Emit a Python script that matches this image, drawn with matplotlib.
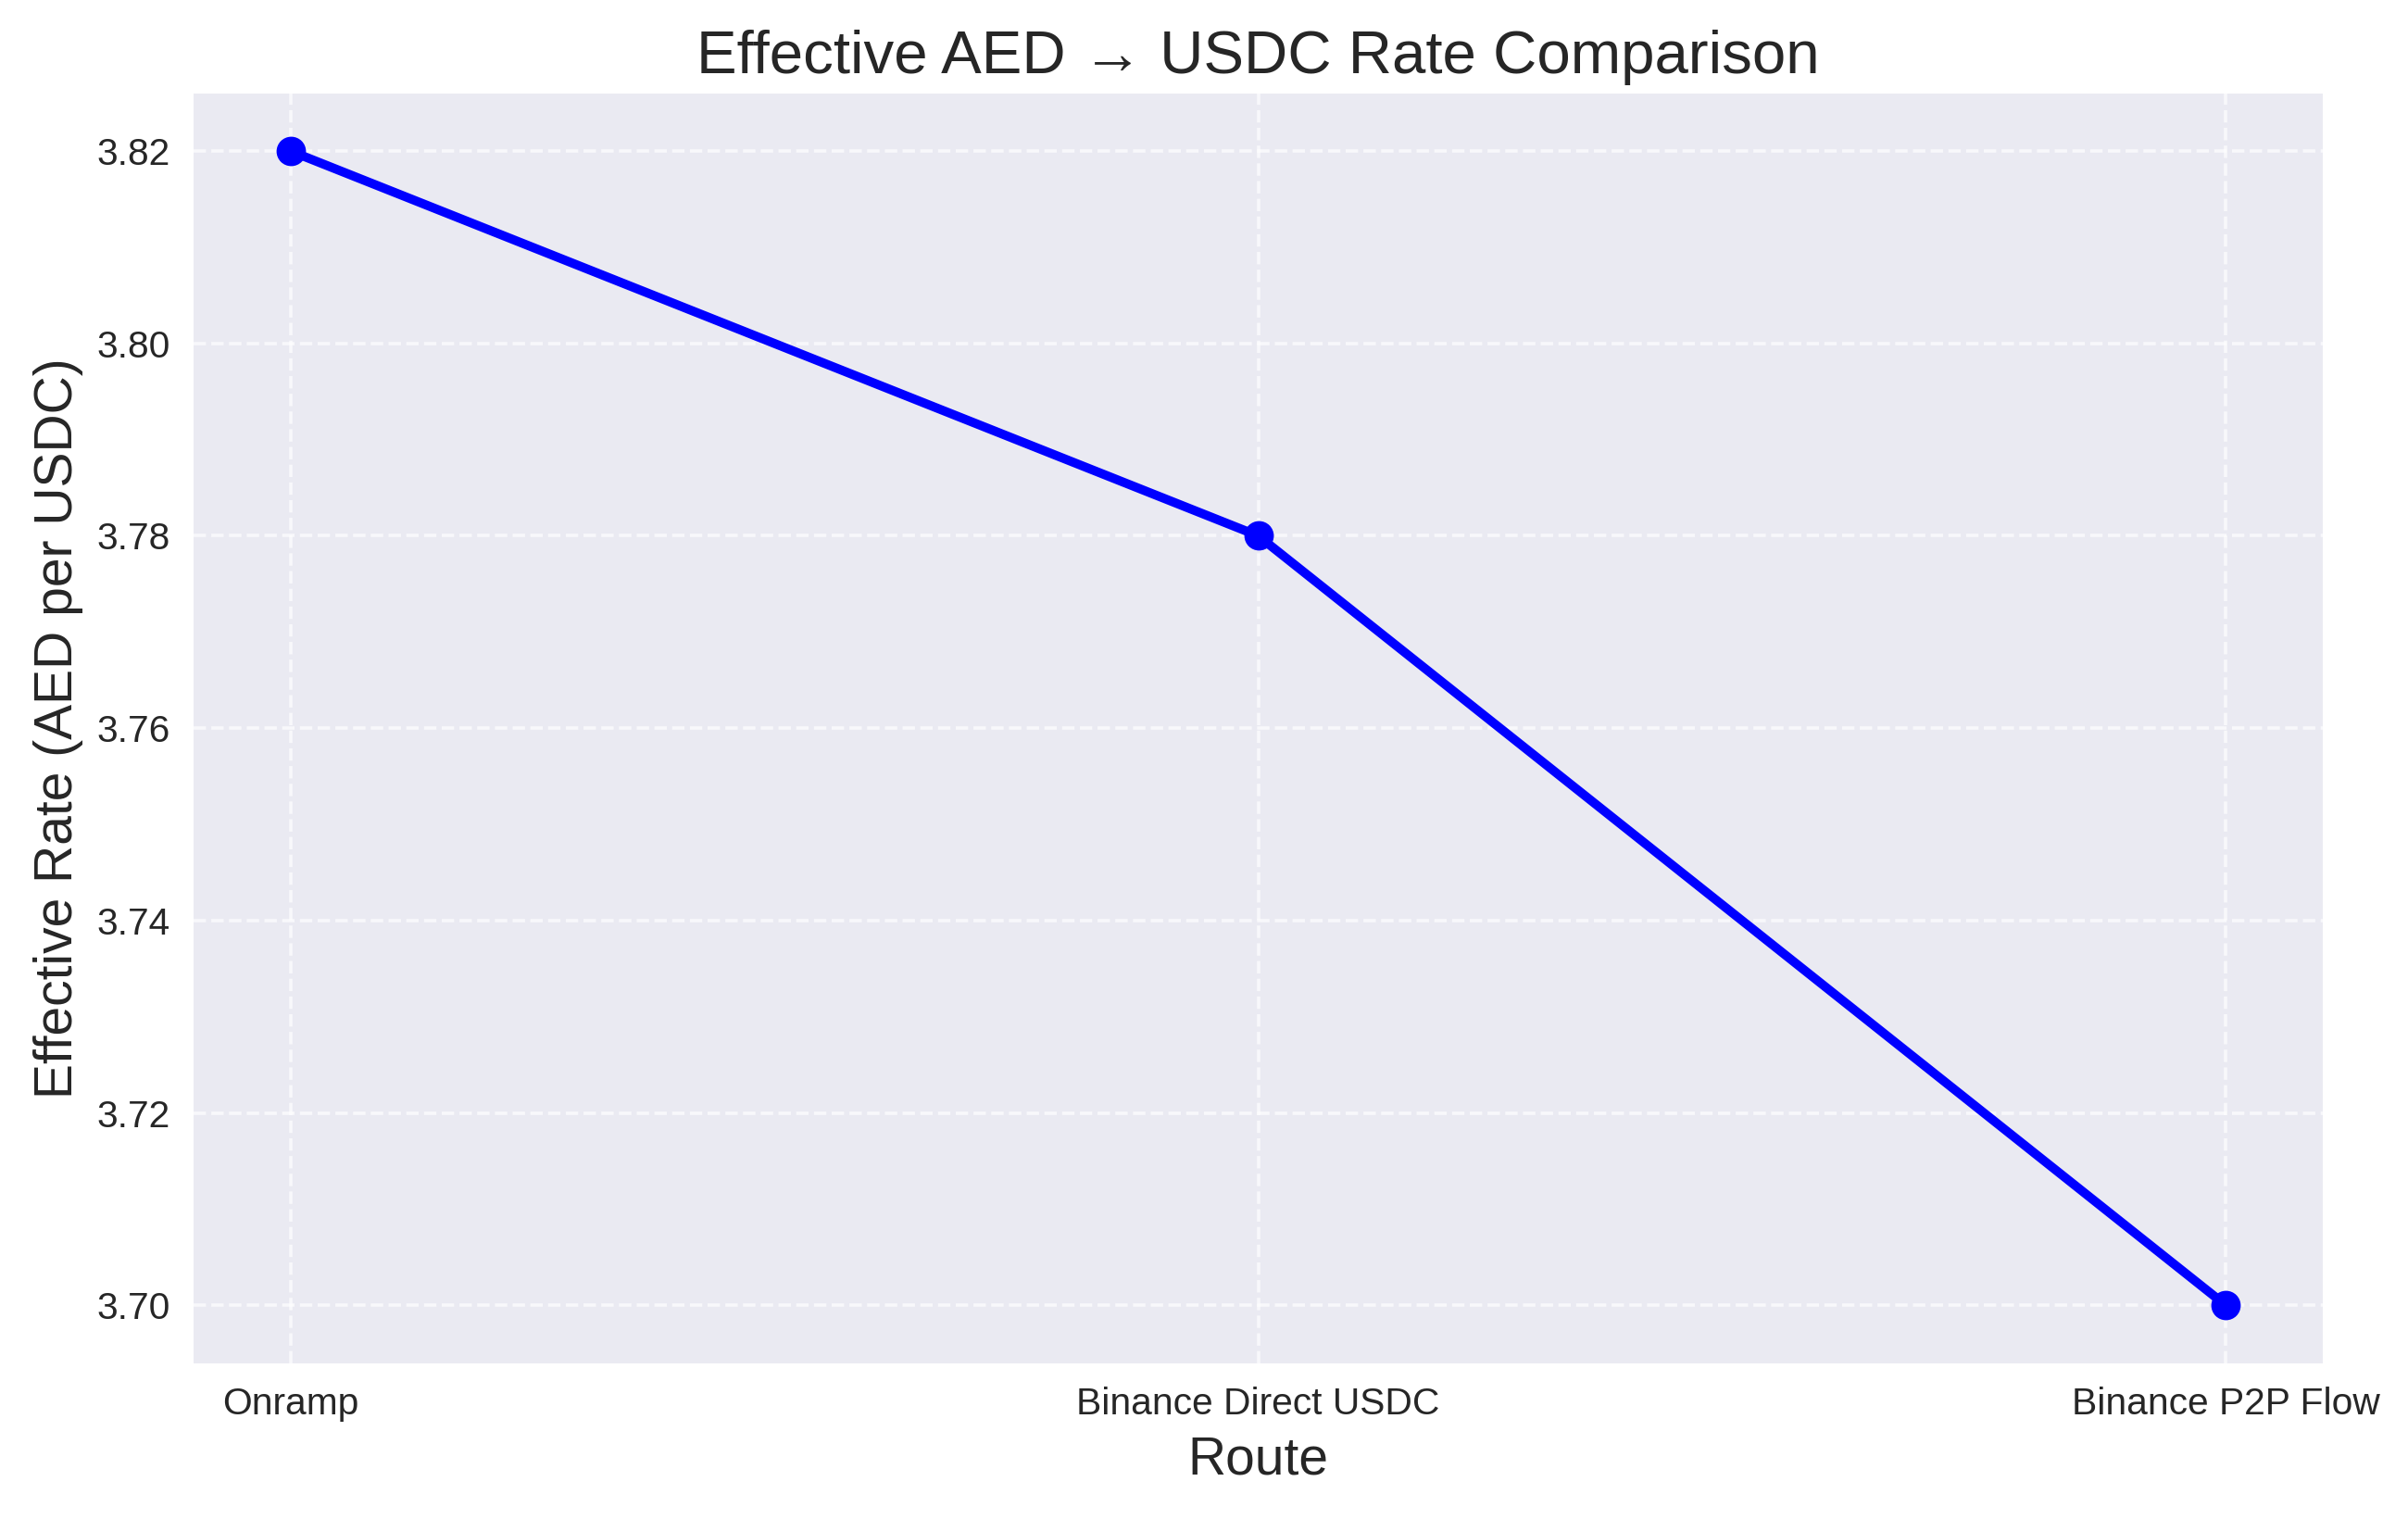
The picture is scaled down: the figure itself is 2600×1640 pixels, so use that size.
import matplotlib
matplotlib.use("Agg")
import matplotlib.pyplot as plt

routes = ["Onramp", "Binance Direct USDC", "Binance P2P Flow"]
rates = [3.82, 3.78, 3.70]

plt.style.use("seaborn-v0_8")
plt.rcParams["font.family"] = ["Liberation Sans", "DejaVu Sans"]

fig = plt.figure(figsize=(10, 1640 / 260), dpi=260)
ax = fig.add_axes([0.0804, 0.1026, 0.8842, 0.836])

ax.plot(routes, rates, marker="o", color="blue", linewidth=2.7, markersize=8.8)

ax.set_title("Effective AED \u2192 USDC Rate Comparison", fontsize=18.1)
ax.set_xlabel("Route", fontsize=15.8)
ax.set_ylabel("Effective Rate (AED per USDC)", fontsize=15.8)
ax.tick_params(labelsize=11.3)
ax.grid(True, linestyle="--", alpha=0.7)

fig.savefig("out.png", dpi=260)
